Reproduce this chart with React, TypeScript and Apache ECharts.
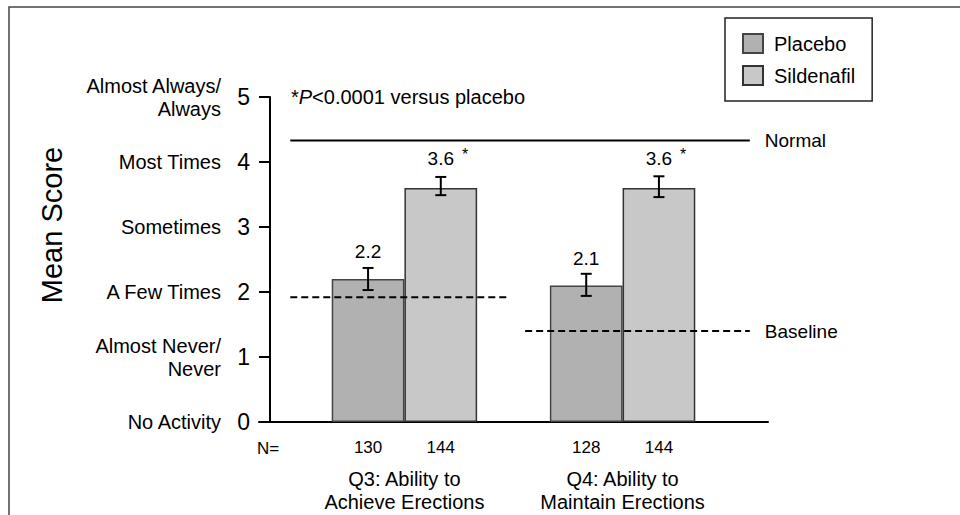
import React, { useEffect, useRef } from 'react';
import * as echarts from 'echarts';

// ---- data ----
const groupLabels = ['Q3: Ability to\nAchieve Erections', 'Q4: Ability to\nMaintain Erections'];
const placeboMeans = [2.2, 2.1];
const sildenafilMeans = [3.6, 3.6];
const placeboErr = [[2.03, 2.37], [1.94, 2.28]];
const sildenafilErr = [[3.49, 3.77], [3.46, 3.78]];
const placeboN = [130, 128];
const sildenafilN = [144, 144];
const significant = [true, true];
const yTicks = [0, 1, 2, 3, 4, 5];
const yTickLabels = ['No Activity', 'Almost Never/\nNever', 'A Few Times', 'Sometimes', 'Most Times', 'Almost Always/\nAlways'];
const normalScore = 4.33;
const baselineScores = [1.92, 1.4];
const seriesNames = ['Placebo', 'Sildenafil'];

// ---- layout ----
const FONT = 'Liberation Sans, Arial, Helvetica, sans-serif';
const GRID_LEFT = 259;
const GRID_TOP = 97;
const GRID_W = 509;
const GRID_H = 325;
const SLOTS = 7;
const SLOT_W = GRID_W / SLOTS;

export default function App() {
  const ref = useRef<HTMLDivElement>(null);

  useEffect(() => {
    if (!ref.current) return;
    const chart = echarts.init(ref.current, undefined, { renderer: 'svg' });

    // slot layout: gap, P, S, gap, P, S, gap
    const slotIndex = (g: number, s: number) => 1 + g * 3 + s;
    const slotLabels: string[] = new Array(SLOTS).fill('');
    const placeboData: any[] = new Array(SLOTS).fill('-');
    const sildenafilData: any[] = new Array(SLOTS).fill('-');
    const errData: any[] = [];
    groupLabels.forEach((_, g) => {
      slotLabels[slotIndex(g, 0)] = String(placeboN[g]);
      slotLabels[slotIndex(g, 1)] = String(sildenafilN[g]);
      placeboData[slotIndex(g, 0)] = placeboMeans[g];
      sildenafilData[slotIndex(g, 1)] = sildenafilMeans[g];
      errData.push([slotIndex(g, 0), placeboErr[g][0], placeboErr[g][1]]);
      errData.push([slotIndex(g, 1), sildenafilErr[g][0], sildenafilErr[g][1]]);
    });
    const slotCats = slotLabels.map((_, i) => 'slot' + i);
    const groupOfSlot = (i: number) => Math.floor((i - 1) / 3);

    const barLabelBase = {
      show: true,
      position: 'top',
      distance: 18,
      color: '#000',
      fontSize: 19,
      fontFamily: FONT,
    };

    const option: any = {
      animation: false,
      backgroundColor: '#fff',
      textStyle: { fontFamily: FONT, color: '#000' },
      grid: { left: GRID_LEFT, top: GRID_TOP, width: GRID_W, height: GRID_H, containLabel: false },
      legend: {
        data: seriesNames,
        orient: 'vertical',
        left: 725,
        top: 18,
        padding: [15, 17, 15, 17],
        itemWidth: 20,
        itemHeight: 19,
        itemGap: 11,
        borderColor: '#222',
        borderWidth: 1.5,
        icon: 'rect',
        textStyle: { fontSize: 20, color: '#000', fontFamily: FONT, padding: [0, 0, 0, 6], lineHeight: 19 },
      },
      xAxis: [
        {
          type: 'category',
          position: 'bottom',
          data: slotCats,
          boundaryGap: true,
          axisLine: { show: true, onZero: false, lineStyle: { color: '#000', width: 2 } },
          axisTick: { show: false },
          axisLabel: {
            interval: 0,
            fontSize: 17,
            margin: 17,
            color: '#000',
            fontFamily: FONT,
            formatter: (_v: string, i: number) => slotLabels[i],
          },
          splitLine: { show: false },
        },
        { type: 'value', position: 'top', min: 0, max: SLOTS, show: false },
      ],
      yAxis: [
        {
          type: 'value',
          position: 'left',
          min: yTicks[0],
          max: yTicks[yTicks.length - 1],
          interval: 1,
          offset: -11,
          axisLine: { show: true, onZero: false, lineStyle: { color: '#000', width: 2 } },
          axisTick: { show: true, length: 11, lineStyle: { color: '#000', width: 2 } },
          axisLabel: { fontSize: 23, margin: 20, color: '#000', fontFamily: FONT },
          splitLine: { show: false },
        },
        {
          type: 'value',
          position: 'left',
          min: yTicks[0],
          max: yTicks[yTicks.length - 1],
          interval: 1,
          offset: -11,
          axisLine: { show: false, onZero: false },
          axisTick: { show: false },
          axisLabel: {
            fontSize: 20,
            lineHeight: 23,
            margin: 49,
            color: '#000',
            fontFamily: FONT,
            formatter: (v: number) => yTickLabels[yTicks.indexOf(v)] ?? '',
          },
          splitLine: { show: false },
        },
      ],
      series: [
        {
          name: seriesNames[0],
          type: 'bar',
          data: placeboData,
          barWidth: '100%',
          barGap: '-100%',
          itemStyle: { color: '#b1b1b1', borderColor: '#444', borderWidth: 1.5 },
          label: {
            ...barLabelBase,
            formatter: (p: any) => placeboMeans[groupOfSlot(p.dataIndex)].toFixed(1),
          },
          z: 2,
        },
        {
          name: seriesNames[1],
          type: 'bar',
          data: sildenafilData,
          barWidth: '100%',
          barGap: '-100%',
          itemStyle: { color: '#c8c8c8', borderColor: '#333', borderWidth: 1.5 },
          label: {
            ...barLabelBase,
            formatter: (p: any) => {
              const g = groupOfSlot(p.dataIndex);
              const v = sildenafilMeans[g].toFixed(1);
              return significant[g] ? `{g|*}{v|${v}}{s|*}` : `{v|${v}}`;
            },
            rich: {
              v: { fontSize: 19, color: '#000', fontFamily: FONT },
              g: { fontSize: 16, color: 'transparent', padding: [0, 8, 8, 0], fontFamily: FONT },
              s: { fontSize: 16, color: '#000', padding: [0, 0, 8, 8], fontFamily: FONT },
            },
          },
          z: 2,
        },
        {
          name: 'err',
          type: 'custom',
          data: errData,
          encode: { x: 0, y: [1, 2] },
          z: 5,
          renderItem: (_params: any, api: any) => {
            const x = api.value(0);
            const lo = api.coord([x, api.value(1)]);
            const hi = api.coord([x, api.value(2)]);
            const h = 5.5;
            const st = { stroke: '#000', lineWidth: 2 };
            return {
              type: 'group',
              children: [
                { type: 'line', shape: { x1: lo[0], y1: lo[1], x2: hi[0], y2: hi[1] }, style: st },
                { type: 'line', shape: { x1: lo[0] - h, y1: lo[1], x2: lo[0] + h, y2: lo[1] }, style: st },
                { type: 'line', shape: { x1: hi[0] - h, y1: hi[1], x2: hi[0] + h, y2: hi[1] }, style: st },
              ],
            };
          },
        },
        {
          name: 'Normal',
          type: 'line',
          xAxisIndex: 1,
          data: [[0.43, normalScore], [6.75, normalScore]],
          symbol: 'none',
          lineStyle: { color: '#000', width: 2 },
          endLabel: { show: true, formatter: 'Normal', distance: 15, fontSize: 19, color: '#000', fontFamily: FONT },
          z: 3,
        },
        {
          name: 'BaselineQ3',
          type: 'line',
          xAxisIndex: 1,
          data: [[0.43, baselineScores[0]], [3.44, baselineScores[0]]],
          symbol: 'none',
          lineStyle: { color: '#000', width: 2, type: [7, 4] },
          z: 3,
        },
        {
          name: 'BaselineQ4',
          type: 'line',
          xAxisIndex: 1,
          data: [[3.66, baselineScores[1]], [6.75, baselineScores[1]]],
          symbol: 'none',
          lineStyle: { color: '#000', width: 2, type: [7, 4] },
          endLabel: { show: true, formatter: 'Baseline', distance: 15, fontSize: 19, color: '#000', fontFamily: FONT },
          z: 3,
        },
      ],
      graphic: [
        {
          type: 'polyline',
          shape: { points: [[9, 515], [9, 7], [960, 7]] },
          style: { stroke: '#444', lineWidth: 1.5, fill: 'none' },
          silent: true,
        },
        {
          type: 'text',
          x: 52,
          y: 225,
          rotation: Math.PI / 2,
          style: { text: 'Mean Score', fontSize: 29, fontFamily: FONT, fill: '#000', align: 'center', verticalAlign: 'middle' },
        },
        {
          type: 'text',
          x: 291,
          y: 97,
          style: {
            text: '{a|*}{p|P}{a|<0.0001 versus placebo}',
            rich: {
              a: { fontSize: 20, fontFamily: FONT, fill: '#000' },
              p: { fontSize: 20, fontFamily: FONT, fontStyle: 'italic', fill: '#000' },
            },
            verticalAlign: 'middle',
            align: 'left',
          },
        },
        {
          type: 'text',
          x: 257,
          y: 448,
          style: { text: 'N=', fontSize: 17, fontFamily: FONT, fill: '#000', align: 'left', verticalAlign: 'middle' },
        },
        ...groupLabels.map((t, g) => ({
          type: 'text',
          x: GRID_LEFT + SLOT_W * (2 + 3 * g),
          y: 490,
          style: { text: t, fontSize: 20, lineHeight: 23, fontFamily: FONT, fill: '#000', align: 'center', verticalAlign: 'middle' },
        })),
      ],
    };

    chart.setOption(option);
    return () => chart.dispose();
  }, []);

  return (
    <div
      ref={ref}
      style={{ position: 'fixed', left: 0, top: 0, width: 960, height: 515, background: '#fff' }}
    />
  );
}
